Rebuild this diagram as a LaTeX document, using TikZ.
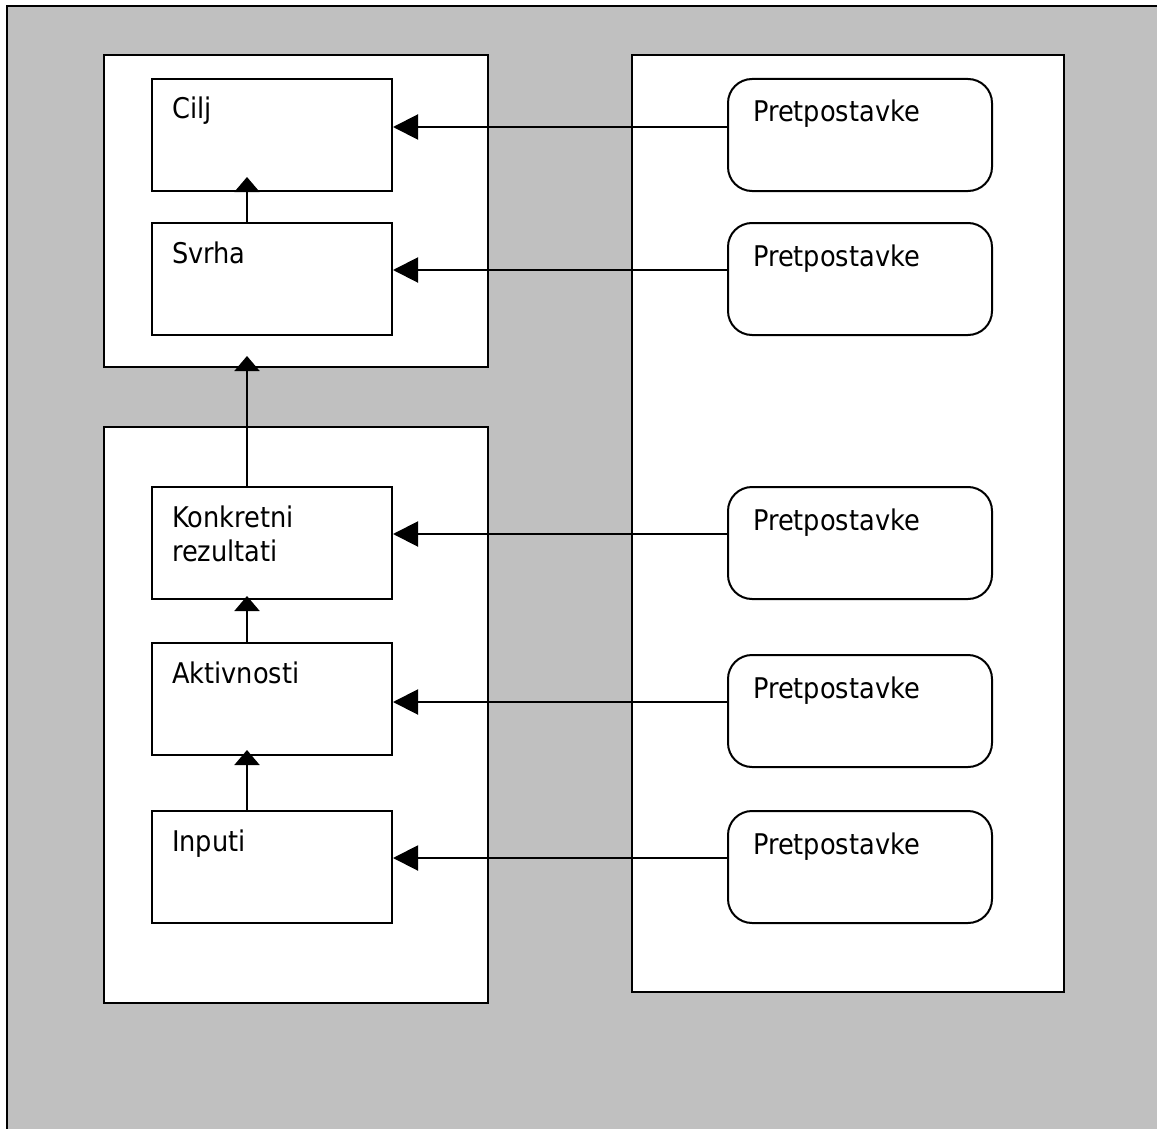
\documentclass[tikz,border=0pt]{standalone}
\usepackage{fontspec}
\setmainfont{DejaVu Sans Condensed}
\usetikzlibrary{arrows.meta,positioning}
\definecolor{panelgray}{RGB}{192,192,192}
\begin{document}
\begin{tikzpicture}[x=1pt,y=-1pt,
  frame/.style={draw=black,line width=2pt},
  group/.style={frame,fill=white,anchor=north west,inner sep=0pt},
  level/.style={frame,fill=white,anchor=north west,inner sep=0pt,
    minimum width=240pt,minimum height=112pt},
  assume/.style={frame,fill=white,anchor=north west,inner sep=0pt,rounded corners=24pt,
    minimum width=264pt,minimum height=112pt},
  label/.style={anchor=base west,inner sep=0pt,align=left,
    font=\fontsize{28.5}{34}\selectfont},
  link/.style={line width=2pt,-{Triangle[length=25pt,width=25pt]}},
  uplink/.style={line width=2pt,-{Triangle[length=15pt,width=25pt]}}
]
\useasboundingbox (0,0) rectangle (1157,1129);
% gray sheet with its border
\fill[panelgray] (7,6) rectangle (1175,1145);
\draw[line width=2pt] (7,1145) -- (7,6) -- (1175,6);

% containers
\node[group,minimum width=384pt,minimum height=312pt] (top) at (103,54) {};
\node[group,minimum width=384pt,minimum height=576pt] (bottom) at (103,426) {};
\node[group,minimum width=432pt,minimum height=937pt] (right) at (631,54) {};

% logframe levels
\node[level] (cilj) at (151,78) {};
\node[level] (svrha) at (151,222) {};
\node[level] (rez) at (151,486) {};
\node[level] (akt) at (151,642) {};
\node[level] (inp) at (151,810) {};

\node[label] (tcilj) at (172,119) {Cilj};
\node[label] (tsvrha) at (172,263) {Svrha};
\node[label] (trez) at (172,561) {Konkretni\\rezultati};
\node[label] (takt) at (172,683) {Aktivnosti};
\node[label] (tinp) at (172,851) {Inputi};

% assumptions
\node[assume] (p1) at (727,78) {};
\node[assume] (p2) at (727,222) {};
\node[assume] (p3) at (727,486) {};
\node[assume] (p4) at (727,654) {};
\node[assume] (p5) at (727,810) {};

\node[label] (tp1) at (753,122) {Pretpostavke};
\node[label] (tp2) at (753,266) {Pretpostavke};
\node[label] (tp3) at (753,530) {Pretpostavke};
\node[label] (tp4) at (753,698) {Pretpostavke};
\node[label] (tp5) at (753,854) {Pretpostavke};

% assumption links
\draw[link] (p1.west |- 0,127) -- (cilj.east |- 0,127);
\draw[link] (p2.west |- 0,270) -- (svrha.east |- 0,270);
\draw[link] (p3.west |- 0,534) -- (rez.east |- 0,534);
\draw[link] (p4.west |- 0,702) -- (akt.east |- 0,702);
\draw[link] (p5.west |- 0,858) -- (inp.east |- 0,858);

% vertical chain
\draw[uplink,shorten >=-15pt] (svrha.north -| 247,0) -- (cilj.south -| 247,0);
\draw[uplink,shorten >=-12pt] (rez.north -| 247,0) -- (top.south -| 247,0);
\draw[uplink,shorten >=-4pt] (akt.north -| 247,0) -- (rez.south -| 247,0);
\draw[uplink,shorten >=-6pt] (inp.north -| 247,0) -- (akt.south -| 247,0);
\end{tikzpicture}
\end{document}
